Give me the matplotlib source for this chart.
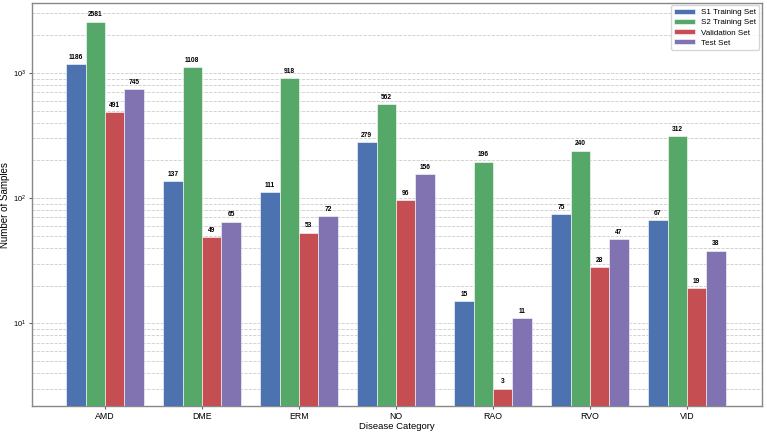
import matplotlib
matplotlib.use("Agg")
import matplotlib.pyplot as plt
import numpy as np

categories = ["AMD", "DME", "ERM", "NO", "RAO", "RVO", "VID"]
s1_train = [1186, 137, 111, 279, 15, 75, 67]
s2_train = [2581, 1108, 918, 562, 196, 240, 312]
validation = [491, 49, 53, 96, 3, 28, 19]
test = [745, 65, 72, 156, 11, 47, 38]
series_names = ["S1 Training Set", "S2 Training Set", "Validation Set", "Test Set"]
colors = ["#4C72B0", "#55A868", "#C44E52", "#8172B2"]

plt.rcParams['font.family'] = ['Liberation Sans', 'DejaVu Sans']
plt.rcParams['mathtext.fontset'] = 'custom'
plt.rcParams['mathtext.rm'] = 'Liberation Sans'

fig = plt.figure(figsize=(7.67, 4.33), dpi=100)
ax = fig.add_axes([0.042, 0.062, 0.951, 0.931])

x = np.arange(len(categories))
width = 0.2
all_series = [s1_train, s2_train, validation, test]
for i, (vals, name, c) in enumerate(zip(all_series, series_names, colors)):
    pos = x + (i - 1.5) * width
    bars = ax.bar(pos, vals, width, label=name, color=c, edgecolor='white', linewidth=0.4, zorder=3)
    for b, v in zip(bars, vals):
        ax.text(b.get_x() + b.get_width() / 2, v * 1.06, str(v), ha='center', va='bottom',
                fontsize=4.8, fontweight='bold', zorder=4)

ax.set_yscale('log')
ax.set_ylim(2.17, 3630)
ax.set_xlim(-0.75, 6.77)
ax.set_xticks(x)
ax.set_xticklabels(categories, fontsize=6.3)
ax.tick_params(axis='y', which='major', labelsize=5.5, length=2.5, pad=1.5, color='#666666')
ax.tick_params(axis='y', which='minor', length=0)
ax.tick_params(axis='x', length=2.5, pad=1.5, color='#666666')
ax.set_xlabel("Disease Category", fontsize=6.8, labelpad=1)
ax.set_ylabel("Number of Samples", fontsize=7, labelpad=2)
ax.yaxis.set_label_coords(-0.030, 0.5)
ax.yaxis.grid(True, which='both', linestyle='--', color='#cccccc', linewidth=0.6, zorder=0)
ax.xaxis.grid(False)
for s in ax.spines.values():
    s.set_color('#888888')
    s.set_linewidth(1.0)

leg = ax.legend(loc='upper right', fontsize=5.8, frameon=True, handlelength=2.5,
                handleheight=0.6, labelspacing=0.35, borderaxespad=0.3, borderpad=0.4)
leg.get_frame().set_edgecolor('#cccccc')

fig.savefig("out.png", dpi=100)
